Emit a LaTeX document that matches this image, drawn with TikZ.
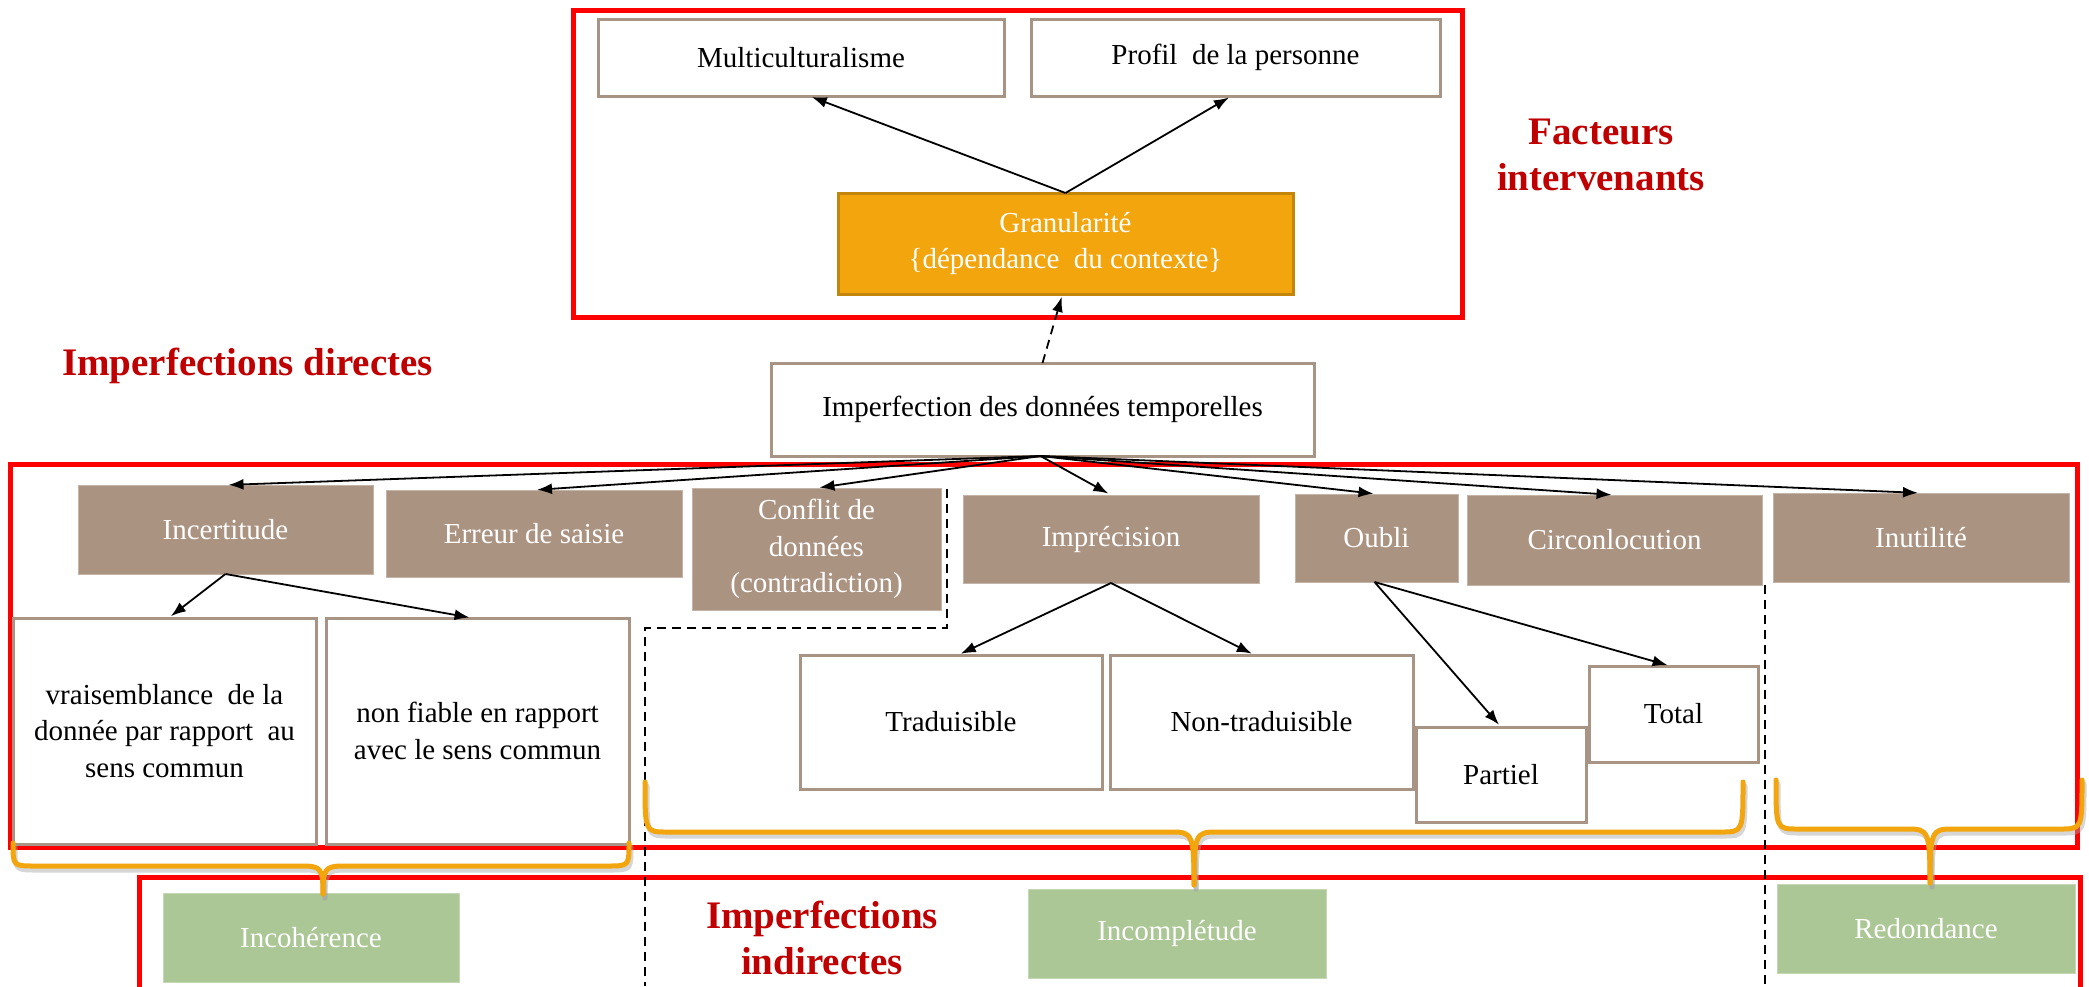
\documentclass[tikz,border=0pt]{standalone}
\usepackage{fontspec}
\setmainfont{Liberation Serif}
\usetikzlibrary{arrows.meta,calc}
\definecolor{frameRed}{HTML}{FF0000}
\definecolor{titleRed}{HTML}{C00000}
\definecolor{boxBorder}{HTML}{A89484}
\definecolor{catFill}{HTML}{AB9382}
\definecolor{granFill}{HTML}{F2A50C}
\definecolor{granBorder}{HTML}{C2860A}
\definecolor{greenFill}{HTML}{ABC795}
\definecolor{braceOrange}{HTML}{F2A50C}
\newcommand\bodyfnt{\fontsize{29}{36.5}\selectfont}
\newcommand\headfnt{\fontsize{39}{46}\selectfont\bfseries}
\tikzset{
  base/.style={inner sep=0pt, outer sep=0pt, align=center, font=\bodyfnt},
  wbox/.style={base, draw=boxBorder, line width=3pt, fill=white, text=black},
  catbox/.style={base, fill=catFill, draw=catFill!70!white, line width=1pt, text=white},
  granbox/.style={base, fill=granFill, draw=granBorder, line width=3pt, text=white},
  greenbox/.style={base, fill=greenFill, draw=greenFill!70!white, line width=1pt, text=white},
  redframe/.style={draw=frameRed, line width=5pt},
  arr/.style={draw=black, line width=1.8pt, -{Latex[length=15pt,width=11pt]}, shorten >=3pt},
  dasharr/.style={arr, dash pattern=on 9pt off 6pt},
  dashline/.style={draw=black, line width=1.6pt, dash pattern=on 9pt off 6pt},
  brace/.style={draw=braceOrange, line width=5pt, line cap=round, line join=round},
  braceshadow/.style={draw=black!35, line width=5pt, line cap=round, line join=round, opacity=0.45, xshift=2pt, yshift=-4pt},
  headtext/.style={inner sep=0pt, text=titleRed, font=\headfnt, align=center}
}
\newcommand\szbox[6]{\node[#1, minimum width=#4pt, minimum height=#5pt] (#2) at (#3) {#6};}
% curly brace: #1 style, #2 x-left, #3 x-right, #4 y-top, #5 y-horizontal, #6 x-tip, #7 y-tip
\newcommand\curlybrace[7]{%
  \draw[#1] (#2,#4) .. controls (#2,#5) and (#2,#5) .. ($(#2,#5)+(22,0)$) -- ($(#6,#5)-(22,0)$)
    .. controls (#6-2,#5) and (#6,#5+2) .. (#6,#7);
  \draw[#1] (#3,#4) .. controls (#3,#5) and (#3,#5) .. ($(#3,#5)-(22,0)$) -- ($(#6,#5)+(22,0)$)
    .. controls (#6+2,#5) and (#6,#5+2) .. (#6,#7);
}
\begin{document}
\begin{tikzpicture}[x=1pt,y=-1pt]
\useasboundingbox (0,0) rectangle (2089,986);
\fill[white] (0,0) rectangle (2089,986);

% red frames
\draw[redframe] (573,10) rectangle (1462,317);
\draw[redframe] (10,464) rectangle (2077,847);
\draw[redframe] (139,990) -- (139,877) -- (2080,877) -- (2080,990);

% top section
\szbox{wbox}{multi}{801,57.5}{406}{77}{Multiculturalisme}
\szbox{wbox}{profil}{1235.5,57.5}{409}{77}{Profil\ \ de la personne}
\szbox{granbox}{gran}{1065.5,243.5}{455}{101}{Granularité\\\{dépendance\ \ du contexte\}}
\szbox{wbox}{imp}{1042.5,409.5}{543}{93}{Imperfection\ des\ données\ temporelles}

% categories
\szbox{catbox}{incert}{225.5,529.5}{295}{89}{Incertitude}
\szbox{catbox}{erreur}{534,533.5}{296}{87}{Erreur de saisie}
\szbox{catbox}{conflit}{816.5,549}{249}{122}{Conflit de\\données\\(contradiction)}
\szbox{catbox}{imprec}{1111,539}{296}{88}{Imprécision}
\szbox{catbox}{oubli}{1376.5,538}{163}{88}{Oubli}
\szbox{catbox}{circ}{1614.5,540}{295}{90}{Circonlocution}
\szbox{catbox}{inut}{1921,537.5}{296}{89}{Inutilité}

% sub boxes
\szbox{wbox}{vrai}{164.5,731}{303}{226}{vraisemblance\ \ de la\\donnée par rapport\ \ au\\sens commun}
\szbox{wbox}{nonf}{477.5,731}{303}{226}{non fiable en rapport\\avec le sens commun}
\szbox{wbox}{trad}{951,722}{302}{134}{Traduisible}
\szbox{wbox}{ntrad}{1261.5,722}{303}{134}{Non-traduisible}
\szbox{wbox}{partiel}{1501,774.5}{170}{95}{Partiel}
\szbox{wbox}{total}{1673.5,714}{169}{96}{Total}

% green boxes
\szbox{greenbox}{incoh}{311,937.5}{296}{89}{Incohérence}
\szbox{greenbox}{incomp}{1177,933.5}{298}{89}{Incomplétude}
\szbox{greenbox}{redond}{1926,928.5}{298}{89}{Redondance}

% titles
\node[headtext] (facteurs) at (1601,155) {Facteurs\\intervenants};
\node[headtext, anchor=west] (directes) at (62,366) {Imperfections directes};
\node[headtext] (indirectes) at (822,938) {Imperfections\\indirectes};

% arrows
\draw[arr] (gran.north) -- ([xshift=8pt]multi.south);
\draw[arr] (gran.north) -- ([xshift=-4pt]profil.south);
\draw[dasharr] (imp.north) -- ([xshift=-3pt]gran.south);
\coordinate (hub) at ([xshift=-2pt]imp.south);
\foreach \t in {incert,erreur,conflit,imprec,oubli,circ,inut}
  \draw[arr] (hub) -- (\t.north);
\draw[arr] (incert.south) -- ([xshift=4pt]vrai.north);
\draw[arr] (incert.south) -- ([xshift=-5pt]nonf.north);
\draw[arr] (imprec.south) -- ([xshift=7pt]trad.north);
\draw[arr] (imprec.south) -- ([xshift=-7pt]ntrad.north);
\draw[arr] ([xshift=-2pt]oubli.south) -- (partiel.north);
\draw[arr] ([xshift=-2pt]oubli.south) -- ([xshift=-3pt]total.north);

% dashed separators
\coordinate (d1) at (947,489);
\coordinate (d2) at (947,628);
\coordinate (d3) at (645,628);
\coordinate (d4) at (645,986);
\draw[dashline] (d1) -- (d2) -- (d3) -- (d4);
\coordinate (d5) at (1765,585);
\coordinate (d6) at (1765,986);
\draw[dashline] (d5) -- (d6);

% braces (shadow, then brace)
\curlybrace{braceshadow}{13}{629}{843}{866}{323}{894}
\curlybrace{braceshadow}{645}{1743}{782}{832}{1194}{885}
\curlybrace{braceshadow}{1776}{2082}{780}{829}{1930}{883}
\curlybrace{brace}{13}{629}{843}{866}{323}{894}
\curlybrace{brace}{645}{1743}{782}{832}{1194}{885}
\curlybrace{brace}{1776}{2082}{780}{829}{1930}{883}
\end{tikzpicture}
\end{document}
